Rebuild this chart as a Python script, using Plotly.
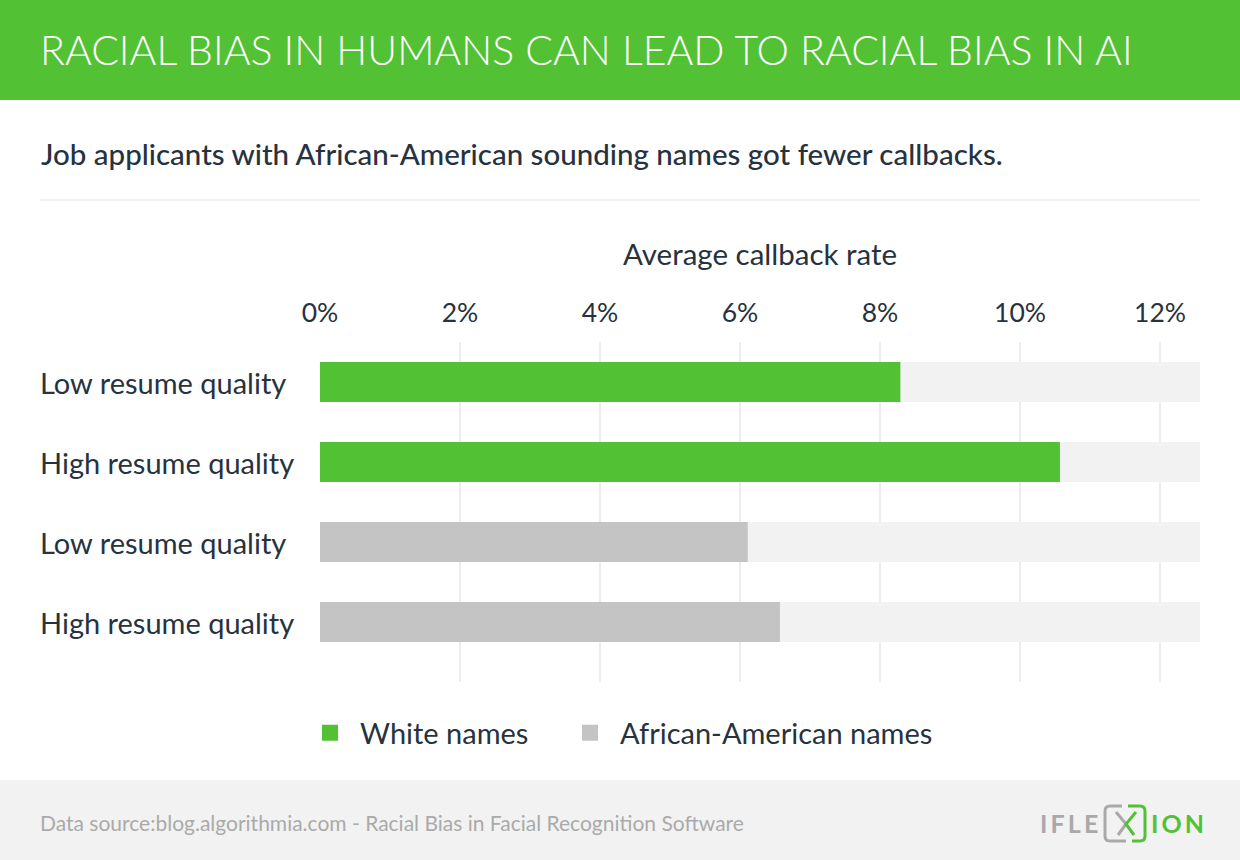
import plotly.graph_objects as go

# ---- data ----
row_labels = ["Low resume quality", "High resume quality", "Low resume quality", "High resume quality"]
row_groups = ["White names", "White names", "African-American names", "African-American names"]
callback_rate = [8.29, 10.57, 6.11, 6.57]          # percent
axis_max = 12.57                                     # right end of the track
tick_values = [0, 2, 4, 6, 8, 10, 12]
tick_labels = ["0%", "2%", "4%", "6%", "8%", "10%", "12%"]
group_names = ["White names", "African-American names"]

title_text = "RACIAL BIAS IN HUMANS CAN LEAD TO RACIAL BIAS IN AI"
subtitle_text = "Job applicants with African-American sounding names got fewer callbacks."
axis_title_text = "Average callback rate"
source_text = "Data source:blog.algorithmia.com - Racial Bias in Facial Recognition Software"

GREEN = "#52c234"
GRAY = "#c4c4c4"
TRACK = "#f2f2f2"
TEXT = "#27323f"
FONT = "Lato"

W, H = 1240, 860
def px(x): return x / W
def py(y): return 1 - y / H

positions = list(range(len(row_labels)))

fig = go.Figure()

# background tracks
fig.add_trace(go.Bar(
    x=[axis_max] * len(positions), y=positions, orientation="h",
    marker=dict(color=TRACK, line=dict(width=0)), width=0.5,
    showlegend=False, hoverinfo="skip",
))

colors = {"White names": GREEN, "African-American names": GRAY}
legend_ids = {"White names": "legend", "African-American names": "legend2"}
for grp in group_names:
    idx = [i for i, g in enumerate(row_groups) if g == grp]
    fig.add_trace(go.Bar(
        x=[callback_rate[i] for i in idx], y=[positions[i] for i in idx],
        orientation="h", name=grp, legendgroup=grp, showlegend=False,
        marker=dict(color=colors[grp], line=dict(width=0)), width=0.5,
    ))
    # legend entry (square swatch)
    fig.add_trace(go.Scatter(
        x=[None], y=[None], mode="markers", name=grp, legendgroup=grp,
        legend=legend_ids[grp],
        marker=dict(symbol="square", size=16, color=colors[grp], line=dict(width=0)),
    ))

legend_common = dict(
    orientation="h", yanchor="middle", y=py(733), xanchor="left",
    font=dict(size=29, color=TEXT, family=FONT), itemwidth=50,
    bgcolor="rgba(0,0,0,0)", itemclick=False, itemdoubleclick=False,
    itemsizing="trace",
)

fig.update_layout(
    width=W, height=H,
    margin=dict(l=0, r=0, t=0, b=0, autoexpand=False),
    paper_bgcolor="white", plot_bgcolor="white",
    barmode="overlay",
    font=dict(family=FONT, color=TEXT),
    xaxis=dict(
        domain=[px(320), px(1200)], range=[0, axis_max], side="top",
        tickvals=tick_values, ticktext=tick_labels,
        tickfont=dict(size=26.5, color=TEXT, family=FONT),
        ticks="outside", ticklen=8, tickcolor="rgba(0,0,0,0)",
        showgrid=True, gridcolor="#ededed", gridwidth=2,
        zeroline=False, showline=False, fixedrange=True, automargin=False,
    ),
    yaxis=dict(
        domain=[py(682), py(342)], range=[3.75, -0.5],
        showticklabels=False, showgrid=False, zeroline=False, showline=False,
        fixedrange=True, automargin=False,
    ),
    legend=dict(legend_common, x=px(300)),
    legend2=dict(legend_common, x=px(560)),
    showlegend=True,
)

shapes = [
    dict(type="rect", xref="paper", yref="paper", x0=0, x1=1, y0=py(100), y1=1,
         fillcolor=GREEN, line=dict(width=0), layer="below"),
    dict(type="rect", xref="paper", yref="paper", x0=0, x1=1, y0=0, y1=py(780),
         fillcolor="#f2f2f2", line=dict(width=0), layer="below"),
    dict(type="line", xref="paper", yref="paper", x0=px(40), x1=px(1200), y0=py(200), y1=py(200),
         line=dict(color="#f0f0f0", width=2)),
    # logo bracket (gray left, green right)
    dict(type="path", xref="paper", yref="paper",
         path=f"M {px(1122)},{py(806)} L {px(1110)},{py(806)} Q {px(1105)},{py(806)} {px(1105)},{py(811)} "
              f"L {px(1105)},{py(836)} Q {px(1105)},{py(841)} {px(1110)},{py(841)} L {px(1126)},{py(841)}",
         line=dict(color="#a9a9a9", width=3)),
    dict(type="path", xref="paper", yref="paper",
         path=f"M {px(1128)},{py(806)} L {px(1140)},{py(806)} Q {px(1145)},{py(806)} {px(1145)},{py(811)} "
              f"L {px(1145)},{py(836)} Q {px(1145)},{py(841)} {px(1140)},{py(841)} L {px(1132)},{py(841)}",
         line=dict(color=GREEN, width=3)),
    dict(type="path", xref="paper", yref="paper",
         path=f"M {px(1116)},{py(812)} L {px(1126)},{py(824)} L {px(1118)},{py(835)}",
         line=dict(color="#a9a9a9", width=3)),
    dict(type="path", xref="paper", yref="paper",
         path=f"M {px(1136)},{py(812)} L {px(1126)},{py(824)} L {px(1134)},{py(835)}",
         line=dict(color=GREEN, width=3)),
]
fig.update_layout(shapes=shapes)

ann = [
    dict(text=title_text, x=px(38), y=py(50), xanchor="left", yanchor="middle",
         font=dict(size=41, color="white", family=FONT, weight=300)),
    dict(text=subtitle_text, x=px(39), y=py(154), xanchor="left", yanchor="middle",
         font=dict(size=29.5, color=TEXT, family=FONT, weight=500)),
    dict(text=axis_title_text, x=px(760), y=py(253), xanchor="center", yanchor="middle",
         font=dict(size=29.5, color=TEXT, family=FONT)),
    dict(text=source_text, x=px(38), y=py(822), xanchor="left", yanchor="middle",
         font=dict(size=21, color="#aaaaaa", family=FONT)),
    dict(text="I\u2009F\u2009L\u2009E", x=px(1100), y=py(823), xanchor="right", yanchor="middle",
         font=dict(size=25, color="#a9a9a9", family=FONT, weight=700)),
    dict(text="I\u2009O\u2009N", x=px(1149), y=py(823), xanchor="left", yanchor="middle",
         font=dict(size=25, color=GREEN, family=FONT, weight=700)),
]
for a in ann:
    a.update(xref="paper", yref="paper", showarrow=False)

for pos, lab in zip(positions, row_labels):
    ann.append(dict(text=lab, xref="paper", yref="y", x=px(38), y=pos,
                    xanchor="left", yanchor="middle", showarrow=False,
                    font=dict(size=29, color=TEXT, family=FONT)))
fig.update_layout(annotations=ann)

fig.write_html(
    "out.html", config={"displayModeBar": False},
    post_script="document.body.style.margin='0';document.body.style.overflow='hidden';"
                "document.documentElement.style.overflow='hidden';",
)
